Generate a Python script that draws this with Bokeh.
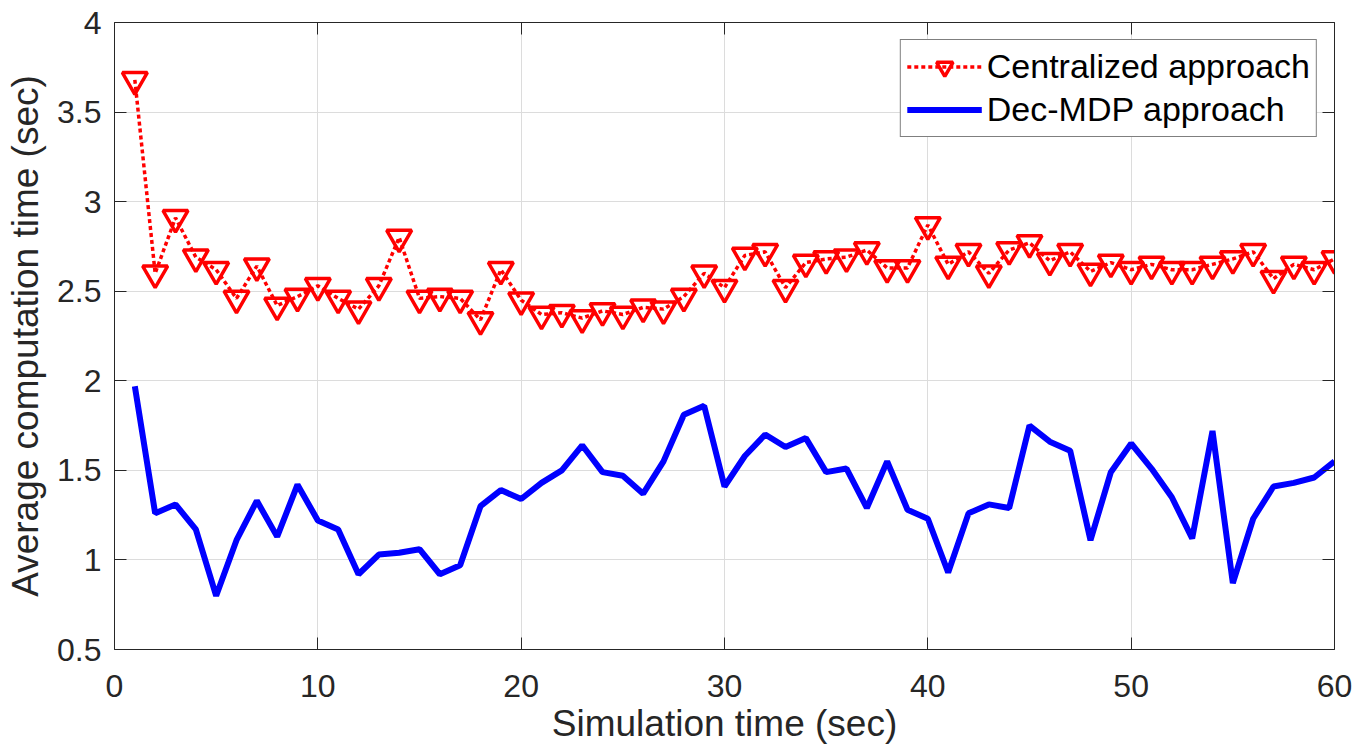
from bokeh.plotting import figure
from bokeh.models import LinearAxis, FixedTicker, Range1d, Legend, LegendItem, CustomJSTickFormatter
from bokeh.embed import file_html
from bokeh.resources import INLINE

time_s = list(range(1, 61))
centralized = [3.68, 2.60, 2.91, 2.69, 2.62, 2.46, 2.64, 2.42, 2.47, 2.53,
               2.46, 2.40, 2.53, 2.80, 2.46, 2.47, 2.46, 2.34, 2.62, 2.45,
               2.37, 2.38, 2.35, 2.39, 2.37, 2.41, 2.40, 2.47, 2.60, 2.52,
               2.70, 2.72, 2.52, 2.66, 2.68, 2.69, 2.73, 2.63, 2.63, 2.87,
               2.65, 2.72, 2.60, 2.73, 2.77, 2.67, 2.72, 2.61, 2.66, 2.62,
               2.65, 2.62, 2.62, 2.65, 2.68, 2.72, 2.57, 2.65, 2.62, 2.68]
dec_mdp = [1.97, 1.26, 1.31, 1.17, 0.80, 1.11, 1.33, 1.13, 1.42, 1.22,
           1.17, 0.92, 1.03, 1.04, 1.06, 0.92, 0.97, 1.30, 1.39, 1.34,
           1.43, 1.50, 1.64, 1.49, 1.47, 1.37, 1.55, 1.81, 1.86, 1.41,
           1.58, 1.70, 1.63, 1.68, 1.49, 1.51, 1.29, 1.55, 1.28, 1.23,
           0.93, 1.26, 1.31, 1.29, 1.75, 1.66, 1.61, 1.11, 1.49, 1.65,
           1.51, 1.35, 1.12, 1.72, 0.87, 1.23, 1.41, 1.43, 1.46, 1.55]
x_ticks = [0, 10, 20, 30, 40, 50, 60]
y_ticks = [0.5, 1, 1.5, 2, 2.5, 3, 3.5, 4]
y_tick_labels = ["0.5", "1", "1.5", "2", "2.5", "3", "3.5", "4"]
series_names = ["Centralized approach", "Dec-MDP approach"]

FONT = "Liberation Sans"
AX = "#262626"

p = figure(frame_width=1220, frame_height=627, output_backend="svg", toolbar_location=None,
           x_range=Range1d(0, 60), y_range=Range1d(0.5, 4),
           min_border_left=114, min_border_right=20, min_border_top=22, min_border_bottom=10)
p.outline_line_color = None
p.background_fill_color = "white"

for ax in [p.xaxis[0], p.yaxis[0]]:
    ax.axis_line_color = AX
    ax.major_tick_line_color = AX
    ax.major_tick_in = 12
    ax.major_tick_out = 0
    ax.minor_tick_line_color = None
    ax.major_label_text_font = FONT
    ax.major_label_text_font_size = "32px"
    ax.major_label_text_color = AX
    ax.axis_label_text_font = FONT
    ax.axis_label_text_font_size = "37px"
    ax.axis_label_text_font_style = "normal"
    ax.axis_label_text_color = AX

p.xaxis[0].ticker = FixedTicker(ticks=x_ticks)
p.yaxis[0].ticker = FixedTicker(ticks=y_ticks)
p.yaxis[0].major_label_overrides = {t: l for t, l in zip(y_ticks, y_tick_labels)}
p.xaxis[0].axis_label = "Simulation time (sec)"
p.yaxis[0].axis_label = "Average computation time (sec)"
p.xaxis[0].major_label_standoff = 25
p.yaxis[0].major_label_standoff = 13
p.xaxis[0].axis_label_standoff = 3
p.yaxis[0].axis_label_standoff = 8

for loc, ticks in [("above", x_ticks), ("right", y_ticks)]:
    a = LinearAxis(ticker=FixedTicker(ticks=ticks),
                   formatter=CustomJSTickFormatter(code="return ''"))
    a.axis_line_color = AX
    a.major_tick_line_color = AX
    a.major_tick_in = 12
    a.major_tick_out = 0
    a.minor_tick_line_color = None
    a.major_label_standoff = 0
    p.add_layout(a, loc)

p.xgrid.ticker = FixedTicker(ticks=x_ticks)
p.ygrid.ticker = FixedTicker(ticks=y_ticks)
p.grid.grid_line_color = "#dcdcdc"
p.grid.grid_line_width = 1

r1 = p.line(time_s, centralized, line_color="#ff0000", line_width=3.5, line_dash="4 3")
r2 = p.scatter(time_s, centralized, marker="inverted_triangle", size=25,
               line_color="#ff0000", line_width=3.5, fill_color=None)
r3 = p.line(time_s, dec_mdp, line_color="#0000ff", line_width=6)

legend = Legend(items=[LegendItem(label=series_names[0], renderers=[r1, r2]),
                       LegendItem(label=series_names[1], renderers=[r3])],
                location="top_right")
legend.margin = 17
legend.padding = 6
legend.spacing = 2
legend.glyph_width = 75
legend.glyph_height = 41
legend.label_standoff = 5
legend.label_text_font = FONT
legend.label_text_font_size = "34px"
legend.label_text_color = "black"
legend.border_line_color = "black"
legend.border_line_width = 1
legend.background_fill_alpha = 1
p.add_layout(legend)

open("out.html", "w").write(file_html(p, INLINE))
